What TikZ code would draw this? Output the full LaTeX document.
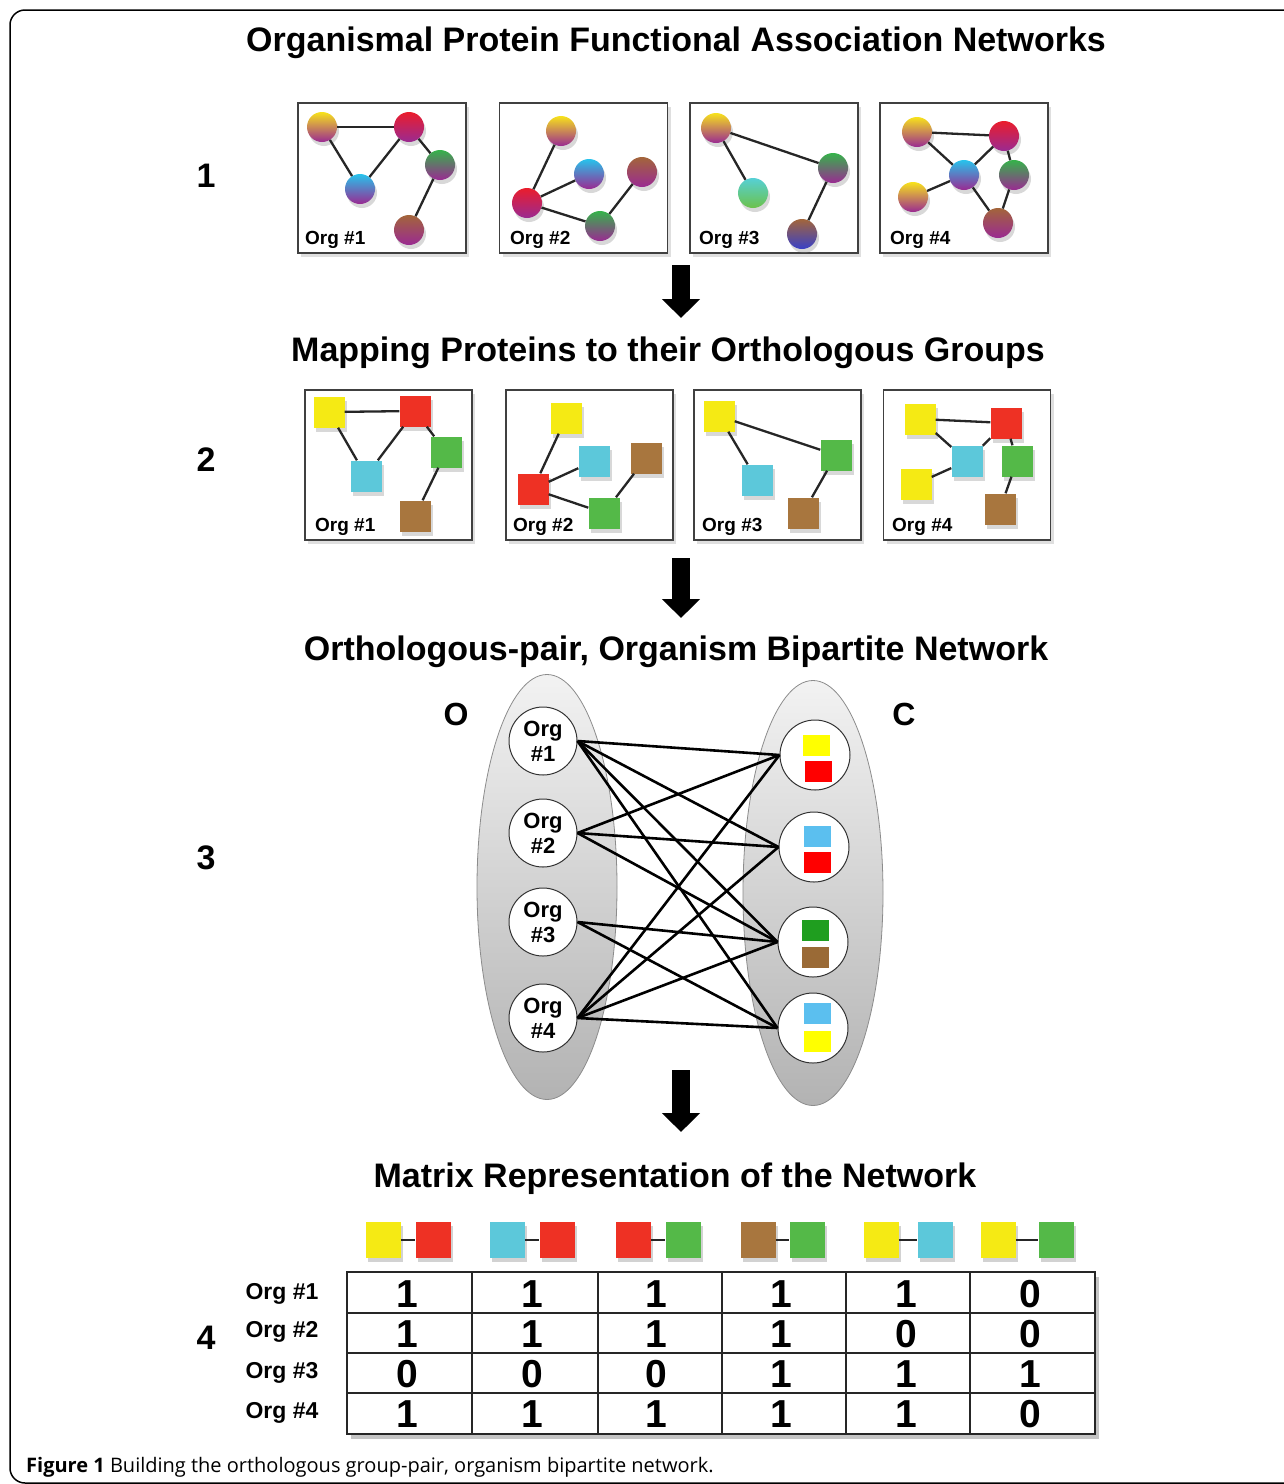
\documentclass[tikz,border=0pt]{standalone}
\usepackage{fontspec}
\setmainfont{Liberation Sans}
\newfontfamily\capfont{Open Sans}
\usetikzlibrary{shapes.geometric,shadows,arrows.meta}
% square colours
\definecolor{sqY}{HTML}{F5EA14}
\definecolor{sqR}{HTML}{EE3124}
\definecolor{sqG}{HTML}{54B948}
\definecolor{sqC}{HTML}{5CC8DA}
\definecolor{sqB}{HTML}{A8763E}
% sphere colours
\definecolor{spP}{HTML}{9A2A92}
\definecolor{spY}{HTML}{F7E21B}
\definecolor{spR}{HTML}{EA1D2C}
\definecolor{spG}{HTML}{35B34A}
\definecolor{spC}{HTML}{27C3EC}
\definecolor{spB}{HTML}{A3653A}
\definecolor{spL}{HTML}{56D0D6}
\definecolor{spLG}{HTML}{6CC24A}
\definecolor{spBl}{HTML}{3840C8}
% bipartite colours
\definecolor{bY}{HTML}{FFFF00}
\definecolor{bR}{HTML}{FF0000}
\definecolor{bC}{HTML}{5BBFEF}
\definecolor{bG}{HTML}{1F9E1F}
\definecolor{bB}{HTML}{9A6A36}
\tikzset{
  ttl/.style={font=\fontsize{34}{40}\selectfont\bfseries},
  stepnum/.style={font=\fontsize{34}{40}\selectfont\bfseries},
  orgbox/.style={draw=black!75, line width=1.8pt, fill=white, minimum width=168pt, minimum height=150pt, inner sep=0,
    drop shadow={shadow xshift=3pt, shadow yshift=-4pt, opacity=.25}},
  sphere/.style 2 args={circle, minimum size=30pt, inner sep=0, top color=#1, bottom color=#2,
    drop shadow={shadow xshift=2pt, shadow yshift=-4pt, opacity=.3}},
  sq/.style={minimum size=31pt, inner sep=0, fill=#1,
    drop shadow={shadow xshift=2pt, shadow yshift=-4pt, opacity=.3}},
  link/.style={line width=2.3pt, black!85},
  oglabel/.style={font=\fontsize{19}{22}\selectfont\bfseries, fill=white, inner sep=2pt, anchor=base west},
  bigarrow/.style={line width=18pt, -{Triangle[length=19pt, width=37pt]}},
  ell/.style={ellipse, draw=black!45, line width=.8pt, top color=black!5, bottom color=black!30, minimum width=140pt, minimum height=425pt, inner sep=0},
  orgc/.style={circle, draw=black!80, line width=1pt, fill=white, minimum size=68pt, inner sep=0, align=center, font=\fontsize{22}{25}\selectfont\bfseries},
  cc/.style={circle, draw=black!80, line width=1pt, fill=white, minimum size=70pt, inner sep=0},
  mini/.style={minimum width=27pt, minimum height=21pt, inner sep=0, fill=#1},
  bip/.style={line width=2.6pt, black},
  hsq/.style={minimum width=35pt, minimum height=36pt, inner sep=0, fill=#1,
    drop shadow={shadow xshift=2pt, shadow yshift=-4pt, opacity=.35}},
  hlink/.style={line width=2pt, black!85},
  num/.style={font=\fontsize{39}{39}\selectfont\bfseries},
  rowlab/.style={font=\fontsize{23}{26}\selectfont\bfseries, anchor=east},
}
\begin{document}
\begin{tikzpicture}[x=1pt,y=-1pt]
\clip (0,0) rectangle (1284,1484);
\fill[white] (0,0) rectangle (1284,1484);
\draw[line width=1.5pt, rounded corners=15pt] (10,10) rectangle (1330,1483);

% ---------- titles and step numbers
\node[ttl] (t1) at (676,43) {Organismal Protein Functional Association Networks};
\node[ttl] (t2) at (668,353) {Mapping Proteins to their Orthologous Groups};
\node[ttl] (t3) at (676,652) {Orthologous-pair, Organism Bipartite Network};
\node[ttl] (t4) at (675,1179) {Matrix Representation of the Network};
\node[stepnum] (s1) at (206,176) {1};
\node[stepnum] (s2) at (206,460) {2};
\node[stepnum] (s3) at (206,858) {3};
\node[stepnum] (s4) at (206,1338) {4};

% ---------- panel 1
\node[orgbox] (b11) at (382,178) {};
\node[orgbox] (b12) at (583.5,178) {};
\node[orgbox] (b13) at (774,178) {};
\node[orgbox] (b14) at (964,178) {};

\node[sphere={spY}{spP}] (p1a) at (322,127) {};
\node[sphere={spR}{spP}] (p1b) at (409,127) {};
\node[sphere={spG}{spP}] (p1c) at (440,165) {};
\node[sphere={spC}{spP}] (p1d) at (360,189) {};
\node[sphere={spB}{spP}] (p1e) at (409,230) {};
\draw[link] (p1a) -- (p1b); \draw[link] (p1a) -- (p1d); \draw[link] (p1d) -- (p1b);
\draw[link] (p1b) -- (p1c); \draw[link] (p1c) -- (p1e);

\node[sphere={spY}{spP}] (p2a) at (561,131) {};
\node[sphere={spC}{spP}] (p2b) at (589,174) {};
\node[sphere={spB}{spP}] (p2c) at (642,172) {};
\node[sphere={spR}{spP}] (p2d) at (527,203) {};
\node[sphere={spG}{spP}] (p2e) at (600,226) {};
\draw[link] (p2a) -- (p2d); \draw[link] (p2d) -- (p2b); \draw[link] (p2d) -- (p2e);
\draw[link] (p2e) -- (p2c);

\node[sphere={spY}{spP}] (p3a) at (716,128) {};
\node[sphere={spG}{spP}] (p3b) at (833,168) {};
\node[sphere={spL}{spLG}] (p3c) at (753,193) {};
\node[sphere={spB}{spBl}] (p3d) at (802,234) {};
\draw[link] (p3a) -- (p3c); \draw[link] (p3a) -- (p3b); \draw[link] (p3b) -- (p3d);

\node[sphere={spY}{spP}] (p4a) at (917,132) {};
\node[sphere={spR}{spP}] (p4b) at (1004,136) {};
\node[sphere={spC}{spP}] (p4c) at (964,175) {};
\node[sphere={spG}{spP}] (p4d) at (1014,175) {};
\node[sphere={spY}{spP}] (p4e) at (913,197) {};
\node[sphere={spB}{spP}] (p4f) at (998,223) {};
\draw[link] (p4a) -- (p4b); \draw[link] (p4a) -- (p4c); \draw[link] (p4c) -- (p4b);
\draw[link] (p4b) -- (p4d); \draw[link] (p4c) -- (p4e); \draw[link] (p4c) -- (p4f);
\draw[link] (p4d) -- (p4f);

\node[oglabel] (l11) at (303,244) {Org \#1};
\node[oglabel] (l12) at (508,244) {Org \#2};
\node[oglabel] (l13) at (697,244) {Org \#3};
\node[oglabel] (l14) at (888,244) {Org \#4};

\coordinate (a1s) at (681,265); \coordinate (a1e) at (681,318);
\draw[bigarrow] (a1s) -- (a1e);

% ---------- panel 2
\node[orgbox, minimum width=167pt] (b21) at (388.5,465) {};
\node[orgbox, minimum width=167pt] (b22) at (589.5,465) {};
\node[orgbox, minimum width=167pt] (b23) at (777.5,465) {};
\node[orgbox, minimum width=167pt] (b24) at (967,465) {};

\node[sq=sqY] (q1a) at (329,412) {};
\node[sq=sqR] (q1b) at (415,411) {};
\node[sq=sqG] (q1c) at (446,452) {};
\node[sq=sqC] (q1d) at (366,476) {};
\node[sq=sqB] (q1e) at (415,516) {};
\draw[link] (q1a) -- (q1b); \draw[link] (q1a) -- (q1d); \draw[link] (q1d) -- (q1b);
\draw[link] (q1b) -- (q1c); \draw[link] (q1c) -- (q1e);

\node[sq=sqY] (q2a) at (566,418) {};
\node[sq=sqC] (q2b) at (594,461) {};
\node[sq=sqB] (q2c) at (646,458) {};
\node[sq=sqR] (q2d) at (533,489) {};
\node[sq=sqG] (q2e) at (604,513) {};
\draw[link] (q2a) -- (q2d); \draw[link] (q2d) -- (q2b); \draw[link] (q2d) -- (q2e);
\draw[link] (q2e) -- (q2c);

\node[sq=sqY] (q3a) at (719,416) {};
\node[sq=sqG] (q3b) at (836,455) {};
\node[sq=sqC] (q3c) at (757,480) {};
\node[sq=sqB] (q3d) at (803,513) {};
\draw[link] (q3a) -- (q3c); \draw[link] (q3a) -- (q3b); \draw[link] (q3b) -- (q3d);

\node[sq=sqY] (q4a) at (920,419) {};
\node[sq=sqR] (q4b) at (1006,423) {};
\node[sq=sqC] (q4c) at (967,461) {};
\node[sq=sqG] (q4d) at (1017,461) {};
\node[sq=sqY] (q4e) at (916,484) {};
\node[sq=sqB] (q4f) at (1000,509) {};
\draw[link] (q4a) -- (q4b); \draw[link] (q4a) -- (q4c); \draw[link] (q4c) -- (q4b);
\draw[link] (q4b) -- (q4d); \draw[link] (q4c) -- (q4e); \draw[link] (q4d) -- (q4f);

\node[oglabel] (l21) at (313,531) {Org \#1};
\node[oglabel] (l22) at (511,531) {Org \#2};
\node[oglabel] (l23) at (700,531) {Org \#3};
\node[oglabel] (l24) at (890,531) {Org \#4};

\coordinate (a2s) at (681,558); \coordinate (a2e) at (681,618);
\draw[bigarrow] (a2s) -- (a2e);

% ---------- panel 3
\node[ell] (eo) at (547,887) {};
\node[ell] (ec) at (813,893) {};
\node[stepnum, font=\fontsize{32}{38}\selectfont\bfseries] (lo) at (456,714) {O};
\node[stepnum, font=\fontsize{32}{38}\selectfont\bfseries] (lc) at (904,714) {C};

\node[orgc] (o1) at (543,741) {Org\\\#1};
\node[orgc] (o2) at (543,833) {Org\\\#2};
\node[orgc] (o3) at (543,922) {Org\\\#3};
\node[orgc] (o4) at (543,1018) {Org\\\#4};

\node[cc] (c1) at (815,755) {};
\node[cc] (c2) at (814,847) {};
\node[cc] (c3) at (813,942) {};
\node[cc] (c4) at (813,1028) {};
\node[mini=bY] (c1t) at (816,745) {};
\node[mini=bR] (c1b) at (818,771) {};
\node[mini=bC] (c2t) at (817,836) {};
\node[mini=bR] (c2b) at (817,862) {};
\node[mini=bG] (c3t) at (815,930) {};
\node[mini=bB] (c3b) at (815,957) {};
\node[mini=bC] (c4t) at (817,1013) {};
\node[mini=bY] (c4b) at (817,1041) {};

\foreach \c in {c1,c2,c3,c4} \draw[bip] (o1.east) -- (\c.west);
\foreach \c in {c1,c2,c3} \draw[bip] (o2.east) -- (\c.west);
\foreach \c in {c3,c4} \draw[bip] (o3.east) -- (\c.west);
\foreach \c in {c1,c2,c3,c4} \draw[bip] (o4.east) -- (\c.west);

\coordinate (a3s) at (681,1070); \coordinate (a3e) at (681,1132);
\draw[bigarrow] (a3s) -- (a3e);

% ---------- panel 4
\node[hsq=sqY] (h1a) at (383,1240) {};
\node[hsq=sqR] (h1b) at (433,1240) {};
\node[hsq=sqC] (h2a) at (507,1240) {};
\node[hsq=sqR] (h2b) at (557,1240) {};
\node[hsq=sqR] (h3a) at (633,1240) {};
\node[hsq=sqG] (h3b) at (683,1240) {};
\node[hsq=sqB] (h4a) at (758,1240) {};
\node[hsq=sqG] (h4b) at (807,1240) {};
\node[hsq=sqY] (h5a) at (881,1240) {};
\node[hsq=sqC] (h5b) at (935,1240) {};
\node[hsq=sqY] (h6a) at (998,1240) {};
\node[hsq=sqG] (h6b) at (1056,1240) {};
\foreach \p in {1,...,6} \draw[hlink] (h\p a) -- (h\p b);

\node[draw=black!85, line width=2pt, fill=white, minimum width=748pt, minimum height=162pt, inner sep=0,
  drop shadow={shadow xshift=4pt, shadow yshift=-5pt, opacity=.45}] (tab) at (721,1353) {};
\foreach \x in {472,598,722,846,970} \draw[line width=2pt, black!85] (\x,1272) -- (\x,1434);
\foreach \y in {1313,1353,1393} \draw[line width=2pt, black!85] (347,\y) -- (1095,\y);

\foreach \r/\y/\vals in {1/1294/{1,1,1,1,1,0}, 2/1334/{1,1,1,1,0,0}, 3/1374/{0,0,0,1,1,1}, 4/1414/{1,1,1,1,1,0}} {
  \foreach \v [count=\c] in \vals {
    \pgfmathsetmacro{\cx}{347+124.67*(\c-0.5)-2}
    \node[num] (m\r\c) at (\cx,\y) {\v};
  }
}

\node[rowlab] (r1) at (322,1294) {Org \#1};
\node[rowlab] (r2) at (322,1332) {Org \#2};
\node[rowlab] (r3) at (322,1373) {Org \#3};
\node[rowlab] (r4) at (322,1413) {Org \#4};

% ---------- caption
\node[anchor=base west, font=\capfont\fontsize{20}{24}\selectfont, inner sep=0] (cap) at (26,1472)
  {\textbf{Figure 1} Building the orthologous group-pair, organism bipartite network.};
\end{tikzpicture}
\end{document}
